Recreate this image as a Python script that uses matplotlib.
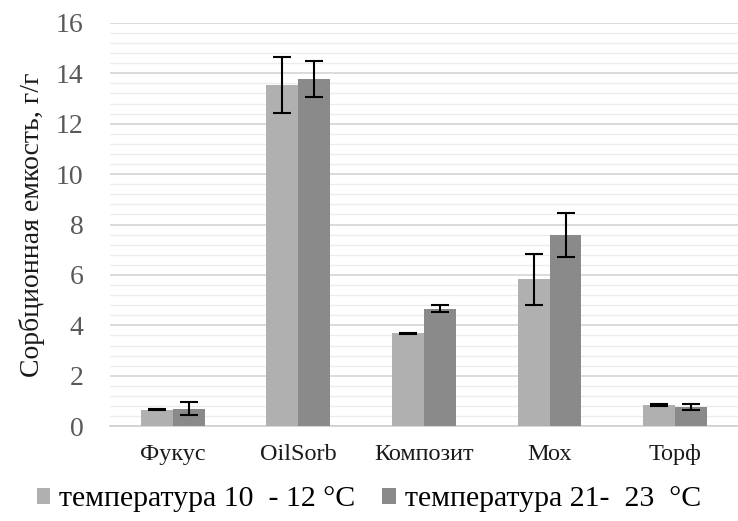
import numpy as np
import matplotlib
matplotlib.use("Agg")
import matplotlib.pyplot as plt
from matplotlib.ticker import MultipleLocator

# Data
categories = ["Фукус", "OilSorb", "Композит", "Мох", "Торф"]
cold_vals = [0.65, 13.53, 3.68, 5.82, 0.85]
cold_err = [0.02, 1.12, 0.03, 1.0, 0.03]
warm_vals = [0.69, 13.77, 4.66, 7.58, 0.77]
warm_err = [0.25, 0.72, 0.13, 0.87, 0.12]
labels = ["температура 10  - 12 °С", "температура 21-  23  °С"]

plt.rcParams['font.family'] = ['Liberation Serif', 'DejaVu Serif']

fig = plt.figure(figsize=(7.38, 5.21), dpi=100)
ax = fig.add_axes([0.149, 0.182, 0.851, 0.774])

x = np.arange(len(categories))
w = 0.254
err_kw = dict(ecolor='black', elinewidth=1.5, capsize=6.5, capthick=1.5)
ax.bar(x - w / 2, cold_vals, w, yerr=cold_err, color='#b0b0b0', label=labels[0],
       error_kw=err_kw, zorder=3)
ax.bar(x + w / 2, warm_vals, w, yerr=warm_err, color='#8a8a8a', label=labels[1],
       error_kw=err_kw, zorder=3)

ax.set_xlim(-0.5, len(categories) - 0.5)
ax.set_ylim(0, 16)
ax.yaxis.set_major_locator(MultipleLocator(2))
ax.yaxis.set_minor_locator(MultipleLocator(0.4))
ax.grid(which='major', axis='y', color='#d4d4d4', linewidth=1.2, zorder=0)
ax.grid(which='minor', axis='y', color='#ececec', linewidth=1.0, zorder=0)
ax.set_axisbelow(True)

for side in ['top', 'right', 'left']:
    ax.spines[side].set_visible(False)
ax.spines['bottom'].set_color('#d0d0d0')
ax.spines['bottom'].set_linewidth(1.2)

ax.tick_params(axis='both', which='both', length=0)
ax.tick_params(axis='y', labelsize=20, labelcolor='#595959', pad=19)
ax.tick_params(axis='x', labelsize=17.5, labelcolor='#1a1a1a', pad=13)
ax.set_xticks(x)
ax.set_xticklabels(categories)
ax.set_ylabel("Сорбционная емкость, г/г", fontsize=20, color='#1a1a1a', labelpad=8)

fig.legend(loc='lower center', ncol=2, bbox_to_anchor=(0.5, -0.035), frameon=False,
           fontsize=21.5, handlelength=0.45, handleheight=0.45, handletextpad=0.3,
           columnspacing=0.9)

fig.savefig("out.png", dpi=100)
